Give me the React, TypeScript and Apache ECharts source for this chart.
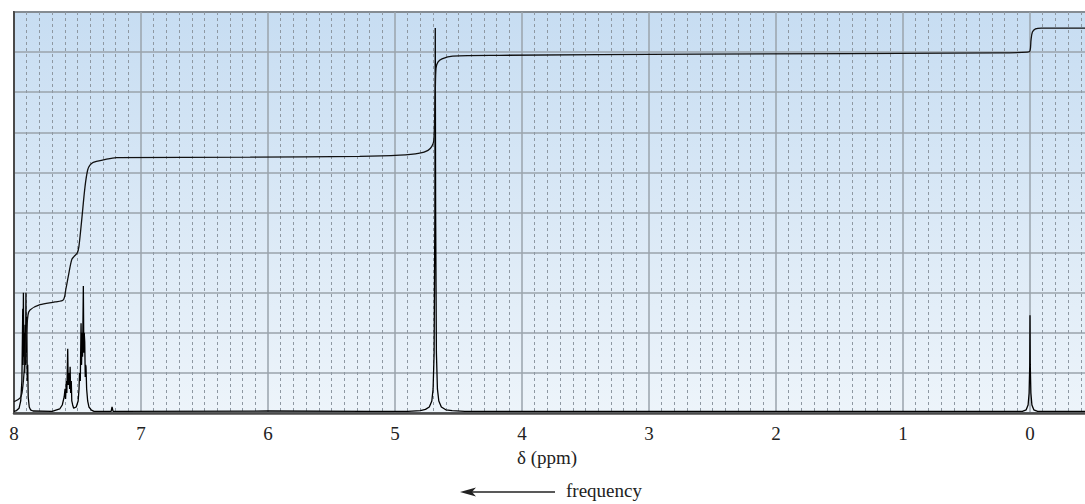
import React, { useEffect, useRef } from "react";
import * as echarts from "echarts";

// x-axis tick labels (ppm), drawn from axis
const xTicks = [8, 7, 6, 5, 4, 3, 2, 1, 0];

// 1H NMR spectrum: [ppm, relative intensity]
const spectrum: [number, number][] = [
  [8.0, 0.4], [7.98, 0.6], [7.96, 1.2], [7.947, 3], [7.938, 8], [7.931, 26], [7.929, 12],
  [7.926, 30], [7.923, 14], [7.919, 20], [7.916, 10], [7.912, 22], [7.909, 12], [7.906, 30],
  [7.903, 15], [7.899, 24], [7.896, 8], [7.892, 12], [7.888, 4], [7.88, 1.5], [7.87, 0.8],
  [7.85, 0.5], [7.7, 0.4], [7.64, 1], [7.62, 2], [7.605, 4], [7.598, 6], [7.594, 3.5],
  [7.588, 8], [7.584, 5], [7.577, 16], [7.573, 7], [7.566, 10], [7.562, 6], [7.558, 11.5],
  [7.554, 5], [7.549, 8], [7.545, 3], [7.538, 2], [7.53, 1.2], [7.51, 1.5], [7.495, 3],
  [7.488, 6], [7.484, 10], [7.478, 8], [7.472, 22.4], [7.468, 12], [7.464, 20], [7.46, 14],
  [7.454, 31.7], [7.45, 15], [7.447, 20], [7.443, 17.7], [7.439, 9], [7.436, 12],
  [7.433, 11.5], [7.428, 6], [7.42, 3], [7.41, 1.5], [7.39, 0.7], [7.37, 0.4], [7.235, 0.4],
  [7.228, 1.5], [7.22, 0.4], [6.0, 0.5], [5.2, 0.4], [4.9, 0.4], [4.8, 0.6], [4.76, 0.9],
  [4.73, 1.5], [4.71, 3], [4.7, 6], [4.692, 15], [4.686, 50], [4.683, 96], [4.68, 50],
  [4.674, 15], [4.666, 6], [4.655, 3], [4.635, 1.5], [4.6, 0.8], [4.55, 0.6], [4.45, 0.4],
  [3.0, 0.4], [2.0, 0.4], [1.0, 0.4], [0.06, 0.4], [0.03, 0.8], [0.015, 2], [0.007, 5],
  [0.002, 12], [0.0, 24.4], [-0.002, 12], [-0.007, 5], [-0.015, 2], [-0.03, 0.8],
  [-0.06, 0.4], [-0.45, 0.4],
];

// integral trace: [ppm, cumulative value]
const integral: [number, number][] = [
  [8.0, 2.8], [7.953, 3.7], [7.937, 5], [7.921, 10], [7.906, 18], [7.89, 24.4],
  [7.874, 25.7], [7.795, 27], [7.677, 27.7], [7.612, 28.2], [7.591, 31], [7.573, 34],
  [7.546, 38.2], [7.528, 39], [7.502, 39.9], [7.489, 41.5], [7.467, 48.1], [7.441, 56.4],
  [7.42, 60.6], [7.402, 61.8], [7.376, 62.5], [7.297, 63.1], [7.192, 63.7], [6.14, 63.8],
  [5.278, 64.0], [4.963, 64.3], [4.806, 64.8], [4.74, 65.5], [4.71, 66.5], [4.694, 68],
  [4.683, 80], [4.677, 86], [4.662, 87.5], [4.63, 88.3], [4.546, 89], [4.176, 89.2],
  [2.603, 89.5], [0.242, 89.8], [0.022, 90], [0.0, 90.3], [-0.008, 93], [-0.019, 95],
  [-0.043, 95.8], [-0.09, 96], [-0.45, 96],
];

const serif = "Liberation Serif";

export default function App() {
  const ref = useRef<HTMLDivElement>(null);
  useEffect(() => {
    if (!ref.current) return;
    const chart = echarts.init(ref.current, null, { renderer: "svg" });
    chart.setOption({
      animation: false,
      textStyle: { fontFamily: serif },
      grid: {
        left: 14,
        top: 12,
        right: 2,
        bottom: 91,
        show: true,
        borderColor: "#4a4a4a",
        borderWidth: 2,
        backgroundColor: new echarts.graphic.LinearGradient(0, 0, 0, 1, [
          { offset: 0, color: "#c7ddf2" },
          { offset: 1, color: "#edf4fa" },
        ]),
      },
      xAxis: {
        type: "value",
        inverse: true,
        min: -1,
        max: 8,
        interval: 1,
        axisLine: { show: true, onZero: false, lineStyle: { color: "#4a4a4a", width: 2.5 } },
        axisTick: { show: false },
        axisLabel: {
          fontFamily: serif,
          fontSize: 19,
          color: "#222",
          margin: 11,
          formatter: (v: number) => (xTicks.includes(v) ? String(v) : ""),
        },
        splitLine: { show: true, lineStyle: { color: "#9aa3ab", width: 1.5 } },
        minorTick: { show: false, splitNumber: 10 },
        minorSplitLine: {
          show: true,
          lineStyle: { color: "#8e98a2", width: 1, type: [3, 3] },
        },
      },
      yAxis: {
        type: "value",
        min: 0,
        max: 100,
        interval: 10,
        axisLine: { show: true, onZero: false, lineStyle: { color: "#4a4a4a", width: 2 } },
        axisTick: { show: false },
        axisLabel: { show: false },
        splitLine: { show: true, lineStyle: { color: "#9aa3ab", width: 1.5 } },
      },
      series: [
        {
          type: "line",
          data: spectrum,
          showSymbol: false,
          lineStyle: { color: "#000", width: 1.3 },
          z: 3,
        },
        {
          type: "line",
          data: integral,
          showSymbol: false,
          smooth: 0.3,
          lineStyle: { color: "#111", width: 1.3 },
          z: 4,
        },
      ],
      graphic: [
        {
          type: "text",
          left: 550 - 33,
          top: 448,
          style: { text: "δ (ppm)", fontFamily: serif, fontSize: 19, fill: "#222" },
        },
        {
          type: "line",
          shape: { x1: 470, y1: 492, x2: 555, y2: 492 },
          style: { stroke: "#222", lineWidth: 1.3 },
        },
        {
          type: "polygon",
          shape: { points: [[460, 492], [476, 487.5], [472, 492], [476, 496.5]] },
          style: { fill: "#222" },
        },
        {
          type: "text",
          left: 566,
          top: 481,
          style: { text: "frequency", fontFamily: serif, fontSize: 19, fill: "#222" },
        },
      ],
    });
    return () => chart.dispose();
  }, []);
  return (
    <div
      style={{
        position: "absolute",
        left: 0,
        top: 0,
        width: 1085,
        height: 504,
        overflow: "hidden",
      }}
    >
      <div ref={ref} style={{ width: 1160, height: 504 }} />
    </div>
  );
}
